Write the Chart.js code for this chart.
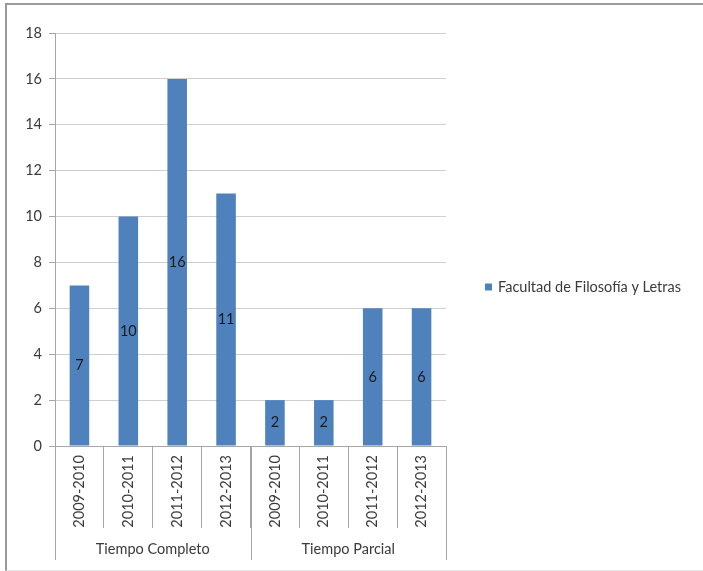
<!DOCTYPE html>
<html>
<head>
<meta charset="utf-8">
<script src="https://cdn.jsdelivr.net/npm/chart.js@4"></script>
<style>
    html, body { margin: 0; padding: 0; background: #fff; }
    #wrap { position: relative; width: 703px; height: 571px; overflow: hidden; }
    #chartCanvas { position: absolute; left: 0; top: 0; }
    #frame {
        position: absolute; left: 5px; top: 3px; width: 720px; height: 565px;
        border-top: 2px solid #9a9a9a; border-left: 2px solid #9a9a9a;
        border-bottom: 1px solid #e6e6e6; pointer-events: none;
    }
</style>
</head>
<body>
<div id="wrap">
    <canvas id="chartCanvas" width="703" height="571"></canvas>
    <div id="frame"></div>
</div>
<script>
// data
const yearLabels = ['2009-2010', '2010-2011', '2011-2012', '2012-2013',
                    '2009-2010', '2010-2011', '2011-2012', '2012-2013'];
const groupNames = ['Tiempo Completo', 'Tiempo Parcial'];
const groupSizes = [4, 4];
const seriesName = 'Facultad de Filosofía y Letras';
const seriesValues = [7, 10, 16, 11, 2, 2, 6, 6];
const yTicks = [0, 2, 4, 6, 8, 10, 12, 14, 16, 18];

const fontFamily = 'Lato, "Open Sans", sans-serif';
const fontSize = 14.5;
const barColor = '#4f81bd';
const textColor = '#3a3a3a';
const axisColor = '#a6a6a6';
const gridColor = '#cfcfcf';

// value labels in the middle of each bar
const barLabels = {
    id: 'barLabels',
    afterDatasetsDraw(chart) {
        const ctx = chart.ctx;
        const meta = chart.getDatasetMeta(0);
        ctx.save();
        ctx.font = fontSize + 'px ' + fontFamily;
        ctx.fillStyle = '#1a1a1a';
        ctx.textAlign = 'center';
        ctx.textBaseline = 'middle';
        meta.data.forEach((bar, i) => {
            ctx.fillText(String(seriesValues[i]), bar.x, (bar.y + bar.base) / 2);
        });
        ctx.restore();
    }
};

// second level of the category axis plus the legend on the right
const groupAxis = {
    id: 'groupAxis',
    afterDraw(chart) {
        const ctx = chart.ctx;
        const x = chart.scales.x;
        const area = chart.chartArea;
        ctx.save();
        ctx.strokeStyle = axisColor;
        ctx.lineWidth = 1;
        ctx.font = fontSize + 'px ' + fontFamily;
        ctx.fillStyle = textColor;
        ctx.textAlign = 'center';
        ctx.textBaseline = 'middle';
        let start = 0;
        groupSizes.forEach((size, g) => {
            const left = x.getPixelForValue(start - 0.5);
            const right = x.getPixelForValue(start + size - 0.5);
            [left, right].forEach(px => {
                const p = Math.round(px) + 0.5;
                ctx.beginPath();
                ctx.moveTo(p, area.bottom);
                ctx.lineTo(p, area.bottom + 114);
                ctx.stroke();
            });
            ctx.fillText(groupNames[g], (left + right) / 2, area.bottom + 103);
            start += size;
        });

        // legend
        const lx = area.right + 39;
        const ly = (area.top + area.bottom) / 2 + 48;
        ctx.fillStyle = barColor;
        ctx.fillRect(lx, ly - 4, 7, 7);
        ctx.fillStyle = textColor;
        ctx.textAlign = 'left';
        ctx.fillText(seriesName, lx + 13, ly);
        ctx.restore();
    }
};

const ctx = document.getElementById('chartCanvas').getContext('2d');
const chart = new Chart(ctx, {
    type: 'bar',
    data: {
        labels: yearLabels,
        datasets: [{
            label: seriesName,
            data: seriesValues,
            backgroundColor: barColor,
            borderWidth: 0,
            barPercentage: 0.4,
            categoryPercentage: 1.0
        }]
    },
    options: {
        responsive: false,
        animation: false,
        devicePixelRatio: 1,
        layout: {
            padding: { top: 33, right: 257, bottom: 0, left: 0 }
        },
        plugins: {
            legend: { display: false },
            tooltip: { enabled: false }
        },
        scales: {
            x: {
                offset: true,
                grid: {
                    offset: true,
                    drawOnChartArea: false,
                    drawTicks: true,
                    tickLength: 82,
                    color: axisColor
                },
                border: { color: axisColor },
                ticks: {
                    autoSkip: false,
                    minRotation: 90,
                    maxRotation: 90,
                    padding: -73,
                    color: textColor,
                    font: { family: fontFamily, size: fontSize }
                },
                afterFit(scale) { scale.height = 125; }
            },
            y: {
                min: 0,
                max: 18,
                afterBuildTicks(scale) {
                    scale.ticks = yTicks.map(v => ({ value: v }));
                },
                grid: {
                    color: gridColor,
                    tickLength: 6,
                    tickColor: axisColor
                },
                border: { color: axisColor },
                ticks: {
                    padding: 7,
                    color: textColor,
                    font: { family: fontFamily, size: fontSize }
                },
                afterFit(scale) { scale.width = 55; }
            }
        }
    },
    plugins: [barLabels, groupAxis]
});
</script>
</body>
</html>
